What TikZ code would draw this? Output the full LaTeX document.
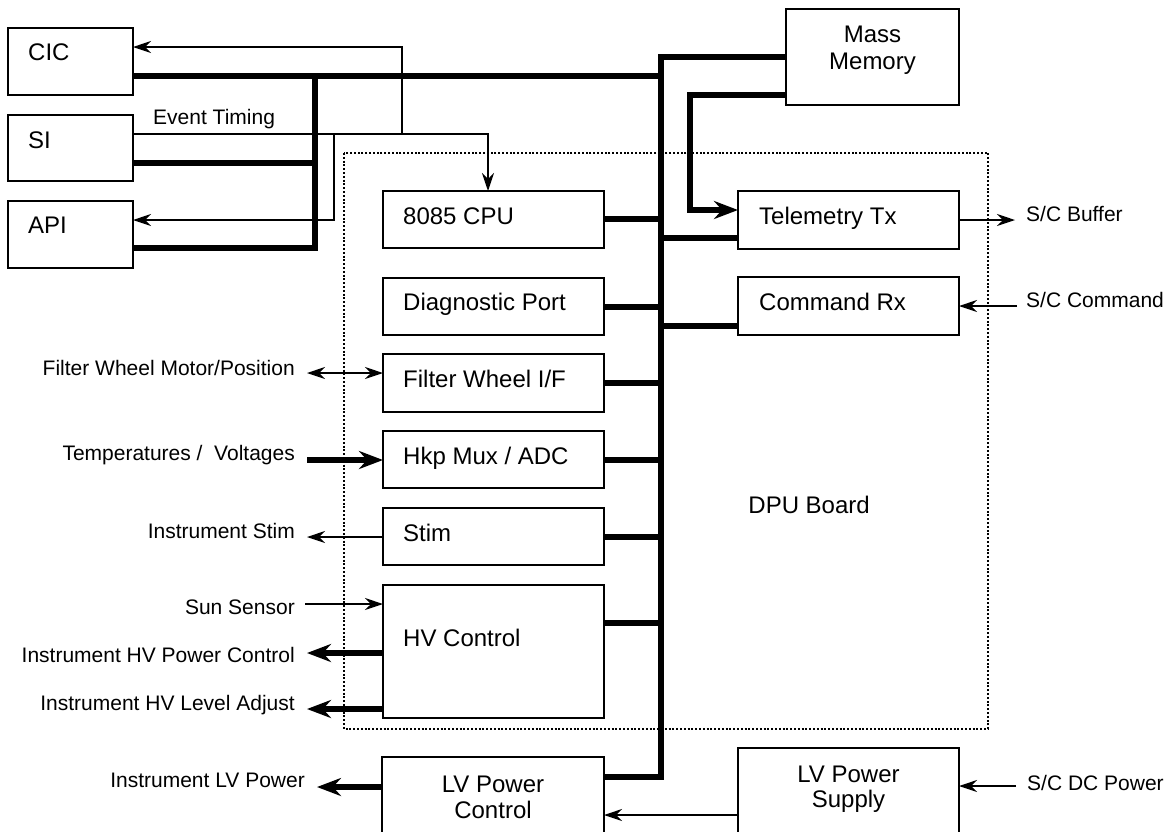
\documentclass[tikz,border=0pt]{standalone}
\usepackage{fontspec}
\setmainfont{Liberation Sans}
\usetikzlibrary{arrows.meta,calc}
\begin{document}
\begin{tikzpicture}[x=1pt,y=-1pt,
  box/.style={draw, line width=1.4pt, inner sep=0pt, outer sep=0pt, anchor=north west},
  bl/.style={font=\fontsize{24}{28}\selectfont, anchor=base west, inner sep=0pt},
  bc/.style={font=\fontsize{24}{28}\selectfont, anchor=base, inner sep=0pt},
  sl/.style={font=\fontsize{21}{24}\selectfont, inner sep=0pt},
  thinline/.style={line width=1.3pt},
  busline/.style={line width=5.5pt, line join=miter},
  ta/.style={thinline, -{Stealth[length=18pt,width=12pt,inset=6pt]}},
  tk/.style={busline, -{Stealth[length=24pt,width=18pt,inset=8pt]}},
  dpu/.style={line width=1.6pt, dash pattern=on 2pt off 1.8pt}
]
\useasboundingbox (0,0) rectangle (1171,831);
\clip (0,0) rectangle (1171,831);

% DPU board outline
\draw[dpu] (344,153) rectangle (988,729);
\node[font=\fontsize{24}{28}\selectfont, anchor=base east, inner sep=0pt] (dpulbl) at (870,513) {DPU Board};

% boxes
\node[box, minimum width=125pt, minimum height=67pt] (cic) at (8,28) {};
\node[box, minimum width=125pt, minimum height=66pt] (si) at (8,115) {};
\node[box, minimum width=125pt, minimum height=67pt] (api) at (8,201) {};
\node[box, minimum width=173pt, minimum height=96pt] (mm) at (786,9) {};
\node[box, minimum width=221pt, minimum height=57pt] (cpu) at (383,191) {};
\node[box, minimum width=221pt, minimum height=58pt] (tel) at (738,191) {};
\node[box, minimum width=221pt, minimum height=57pt] (diag) at (383,278) {};
\node[box, minimum width=221pt, minimum height=58pt] (cmd) at (738,277) {};
\node[box, minimum width=221pt, minimum height=58pt] (fw) at (383,354) {};
\node[box, minimum width=221pt, minimum height=57pt] (hkp) at (383,431) {};
\node[box, minimum width=221pt, minimum height=57pt] (stim) at (383,508) {};
\node[box, minimum width=221pt, minimum height=133pt] (hv) at (383,585) {};
\node[box, minimum width=222pt, minimum height=100pt] (lvc) at (382,757) {};
\node[box, minimum width=221pt, minimum height=110pt] (lvs) at (738,748) {};

% box labels
\node[bl] at (28,60.5) {CIC};
\node[bl] at (28,148) {SI};
\node[bl] at (28,233) {API};
\node[bc] at (872.5,42) {Mass};
\node[bc] at (872.5,69) {Memory};
\node[bl] at (403,224) {8085 CPU};
\node[bl] at (759,224) {Telemetry Tx};
\node[bl] at (403,310) {Diagnostic Port};
\node[bl] at (759,310) {Command Rx};
\node[bl] at (403,387) {Filter Wheel I/F};
\node[bl] at (403,464) {Hkp Mux / ADC};
\node[bl] at (403,541) {Stim};
\node[bl] at (403,646) {HV Control};
\node[bc] at (493,792) {LV Power};
\node[bc] at (493,818) {Control};
\node[bc] at (848.5,782) {LV Power};
\node[bc] at (848.5,807) {Supply};

% bus
\coordinate (bt) at (661,57);
\coordinate (bb) at (661,777);
\draw[busline] (mm.west |- bt) -- (bt) -- (bb) -- (lvc.east |- bb);
\draw[busline] (cic.east |- 0,76) -- (bt |- 0,76);
\draw[busline] (cpu.east |- 0,219) -- (bt |- 0,219);
\draw[busline] (bt |- 0,238) -- (tel.west |- 0,238);
\draw[busline] (diag.east |- 0,307) -- (bt |- 0,307);
\draw[busline] (bt |- 0,326) -- (cmd.west |- 0,326);
\draw[busline] (fw.east |- 0,383) -- (bt |- 0,383);
\draw[busline] (hkp.east |- 0,460) -- (bt |- 0,460);
\draw[busline] (stim.east |- 0,537) -- (bt |- 0,537);
\draw[busline] (hv.east |- 0,623) -- (bt |- 0,623);

% mass memory to telemetry
\draw[tk] (mm.west |- 0,95) -- (690,95) -- (690,210) -- (tel.west |- 0,210);

% instrument bus on the left
\coordinate (lb) at (315,76);
\draw[busline] (lb) -- (315,248) -- (api.east |- 0,248);
\draw[busline] (si.east |- 0,163) -- (lb |- 0,163);

% event timing and returns
\draw[ta] (si.east |- 0,134) -- (488,134) -- (cpu.north -| 488,0);
\node[sl, anchor=base west] (et) at (153,124) {Event Timing};
\coordinate (j1) at (402,134);
\coordinate (j2) at (334,134);
\draw[ta] (j1) -- (402,47) -- (cic.east |- 0,47);
\draw[ta] (j2) -- (334,220) -- (api.east |- 0,220);

% left side signals
\coordinate (fwL) at (307,373);
\coordinate (hkpL) at (307,460);
\coordinate (stimL) at (307,537);
\coordinate (sunL) at (305,604);
\coordinate (hvpL) at (307,653);
\coordinate (hvlL) at (307,709);
\coordinate (lvL) at (317,787);
\draw[thinline, {Stealth[length=18pt,width=12pt,inset=6pt]}-{Stealth[length=18pt,width=12pt,inset=6pt]}] (fwL) -- (fw.west |- fwL);
\draw[tk] (hkpL) -- (hkp.west |- hkpL);
\draw[ta] (stim.west |- stimL) -- (stimL);
\draw[ta] (sunL) -- (hv.west |- sunL);
\draw[tk] (hv.west |- hvpL) -- (hvpL);
\draw[tk] (hv.west |- hvlL) -- (hvlL);
\draw[tk] (lvc.west |- lvL) -- (lvL);

\node[sl, anchor=base east] at (295,375) {Filter Wheel Motor/Position};
\node[sl, anchor=base east] at (295,460) {Temperatures /\ \ Voltages};
\node[sl, anchor=base east] at (295,538) {Instrument Stim};
\node[sl, anchor=base east] at (295,614) {Sun Sensor};
\node[sl, anchor=base east] at (295,662) {Instrument HV Power Control};
\node[sl, anchor=base east] at (295,710) {Instrument HV Level Adjust};
\node[sl, anchor=base east] at (305,787) {Instrument LV Power};

% power supply
\draw[ta] (lvs.west |- 0,815) -- (lvc.east |- 0,815);

% right side signals
\coordinate (bufR) at (1015,220);
\coordinate (cmdR) at (1017,306);
\coordinate (dcR) at (1016,786);
\draw[ta] (tel.east |- bufR) -- (bufR);
\draw[ta] (cmdR) -- (cmd.east |- cmdR);
\draw[ta] (dcR) -- (lvs.east |- dcR);
\node[sl, anchor=base west] at (1026,221) {S/C Buffer};
\node[sl, anchor=base west] at (1026,307) {S/C Command};
\node[sl, anchor=base west] at (1027,790) {S/C DC Power};
\end{tikzpicture}
\end{document}
